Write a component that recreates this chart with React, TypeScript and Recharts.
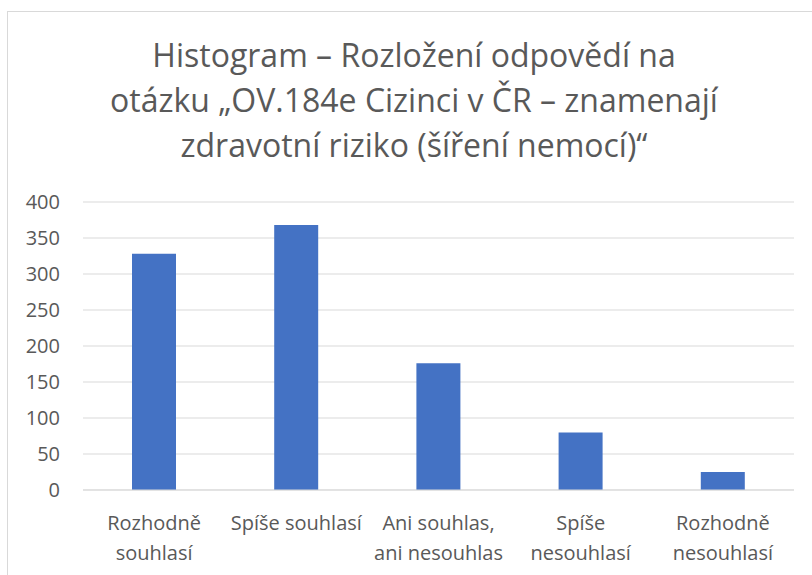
import React from 'react';
import { BarChart, Bar, XAxis, YAxis, CartesianGrid } from 'recharts';

const categories = [
  'Rozhodně souhlasí',
  'Spíše souhlasí',
  'Ani souhlas, ani nesouhlas',
  'Spíše nesouhlasí',
  'Rozhodně nesouhlasí',
];
const counts = [328, 368, 176, 80, 25];
const tickLines = [
  ['Rozhodně', 'souhlasí'],
  ['Spíše souhlasí'],
  ['Ani souhlas,', 'ani nesouhlas'],
  ['Spíše', 'nesouhlasí'],
  ['Rozhodně', 'nesouhlasí'],
];
const yTicks = [0, 50, 100, 150, 200, 250, 300, 350, 400];
const titleLines = [
  'Histogram – Rozložení odpovědí na',
  'otázku „OV.184e Cizinci v ČR – znamenají',
  'zdravotní riziko (šíření nemocí)“',
];

const data = categories.map((name, i) => ({ name, count: counts[i] }));

const FONT = '"Open Sans", sans-serif';
const TEXT = '#595959';

const CategoryTick = (props: any) => {
  const { x, y, payload } = props;
  const lines = tickLines[payload.index] || [payload.value];
  return (
    <g transform={`translate(${x},${y})`}>
      <text textAnchor="middle" fill={TEXT} fontSize={20} fontFamily={FONT}>
        {lines.map((l, i) => (
          <tspan key={i} x={0} y={40 + i * 30}>
            {l}
          </tspan>
        ))}
      </text>
    </g>
  );
};

export default function App() {
  return (
    <div
      style={{
        position: 'fixed',
        left: 0,
        top: 0,
        width: 812,
        height: 575,
        overflow: 'hidden',
        background: '#fff',
      }}
    >
      <div
        style={{
          position: 'absolute',
          left: 7,
          top: 11,
          width: 820,
          height: 600,
          borderLeft: '1px solid #d9d9d9',
          borderTop: '1px solid #d9d9d9',
        }}
      />
      <div
        style={{
          position: 'absolute',
          left: 14,
          width: 800,
          top: 32,
          textAlign: 'center',
          fontFamily: FONT,
          fontSize: 32,
          lineHeight: '45px',
          color: TEXT,
        }}
      >
        {titleLines.map((t, i) => (
          <div key={i}>{t}</div>
        ))}
      </div>
      <div style={{ position: 'absolute', left: 0, top: 0 }}>
        <BarChart
          width={812}
          height={575}
          data={data}
          margin={{ top: 202, right: 18, bottom: 25, left: 0 }}
          barSize={44}
        >
          <CartesianGrid vertical={false} stroke="#d9d9d9" strokeWidth={1} />
          <XAxis
            dataKey="name"
            interval={0}
            tickLine={false}
            tickSize={0}
            tickMargin={0}
            axisLine={{ stroke: '#d9d9d9' }}
            height={60}
            tick={<CategoryTick />}
          />
          <YAxis
            domain={[0, 400]}
            ticks={yTicks}
            width={83}
            axisLine={false}
            tickLine={false}
            tickSize={0}
            tickMargin={23}
            tick={{ fill: TEXT, fontSize: 20, fontFamily: FONT }}
          />
          <Bar dataKey="count" fill="#4472c4" isAnimationActive={false} />
        </BarChart>
      </div>
    </div>
  );
}
